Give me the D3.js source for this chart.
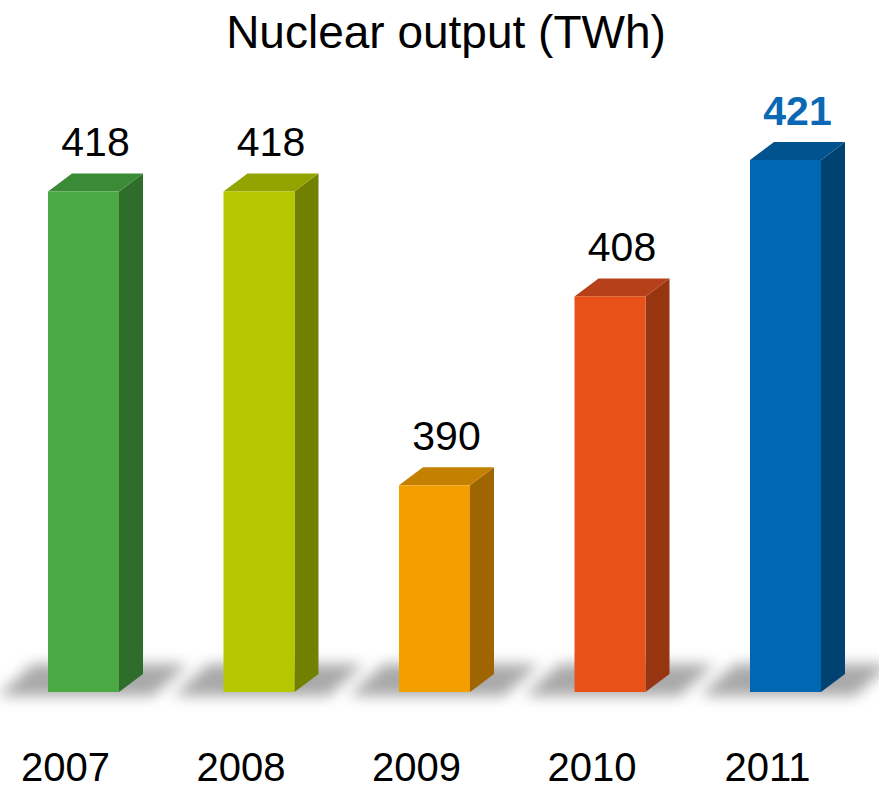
<!DOCTYPE html>
<html>

<head>
    <meta charset="UTF-8">
    <title>Nuclear output</title>
    <style>
        body { margin: 0; background: #fff; }
        svg { display: block; }
        text { font-family: "Liberation Sans", Arial, sans-serif; }
    </style>
</head>

<body>
    <svg width="879" height="790"></svg>
    <script src="https://cdn.jsdelivr.net/npm/d3@7"></script>
    <script>
        // data
        const years = ["2007", "2008", "2009", "2010", "2011"];
        const output = [418, 418, 390, 408, 421];
        const frontColors = ["#4aa942", "#b4c700", "#f49f00", "#e85218", "#0067b2"];
        const sideColors = ["#2f6d2b", "#728000", "#9e6500", "#983511", "#004373"];
        const topColors = ["#3b8a36", "#93a300", "#c48000", "#b5401a", "#00538e"];

        const svg = d3.select("svg"),
            baseline = 692,
            depthX = 24,
            depthY = 18,
            barW = 71,
            x = d3.scalePoint().domain(years).range([48, 750]),
            y = d3.scaleLinear().domain([370.3, 421]).range([baseline, 160]);

        const data = years.map((yr, i) => ({
            year: yr, value: output[i],
            front: frontColors[i], side: sideColors[i], top: topColors[i],
            highlight: i === years.length - 1
        }));

        // soft floor shadow
        const defs = svg.append("defs");
        defs.append("filter")
            .attr("id", "blur")
            .attr("x", "-50%").attr("y", "-50%")
            .attr("width", "200%").attr("height", "200%")
            .append("feGaussianBlur")
            .attr("stdDeviation", 7);

        svg.append("g")
            .attr("filter", "url(#blur)")
            .selectAll("polygon")
            .data(data)
            .enter().append("polygon")
            .attr("fill", "#8c8c8c")
            .attr("opacity", 0.75)
            .attr("points", d => {
                const x0 = x(d.year);
                return [
                    [x0 - 15, baseline - 28],
                    [x0 + barW + depthX + 45, baseline - 28],
                    [x0 + barW + depthX + 10, baseline + 4],
                    [x0 - 50, baseline + 4]
                ].join(" ");
            });

        const bars = svg.selectAll(".bar")
            .data(data)
            .enter().append("g")
            .attr("class", "bar");

        // right side face
        bars.append("polygon")
            .attr("fill", d => d.side)
            .attr("points", d => {
                const x1 = x(d.year) + barW, t = y(d.value);
                return [
                    [x1, t], [x1 + depthX, t - depthY],
                    [x1 + depthX, baseline - depthY], [x1, baseline]
                ].join(" ");
            });

        // top face
        bars.append("polygon")
            .attr("fill", d => d.top)
            .attr("points", d => {
                const x0 = x(d.year), t = y(d.value);
                return [
                    [x0, t], [x0 + depthX, t - depthY],
                    [x0 + barW + depthX, t - depthY], [x0 + barW, t]
                ].join(" ");
            });

        // front face
        bars.append("rect")
            .attr("x", d => x(d.year))
            .attr("y", d => y(d.value))
            .attr("width", barW)
            .attr("height", d => baseline - y(d.value))
            .attr("fill", d => d.front);

        // value labels
        bars.append("text")
            .attr("x", d => x(d.year) + barW / 2 + 12)
            .attr("y", d => y(d.value) - depthY - 17)
            .attr("text-anchor", "middle")
            .style("font-size", "41px")
            .style("font-weight", d => d.highlight ? "bold" : "normal")
            .attr("fill", d => d.highlight ? "#0a68b4" : "#000")
            .text(d => d.value);

        // year labels
        svg.selectAll(".year")
            .data(data)
            .enter().append("text")
            .attr("class", "year")
            .attr("x", d => x(d.year) + barW / 2 - 18)
            .attr("y", 781)
            .attr("text-anchor", "middle")
            .style("font-size", "40px")
            .text(d => d.year);

        svg.append("text")
            .attr("x", 446)
            .attr("y", 48)
            .attr("text-anchor", "middle")
            .style("font-size", "46px")
            .text("Nuclear output (TWh)");
    </script>
</body>

</html>
